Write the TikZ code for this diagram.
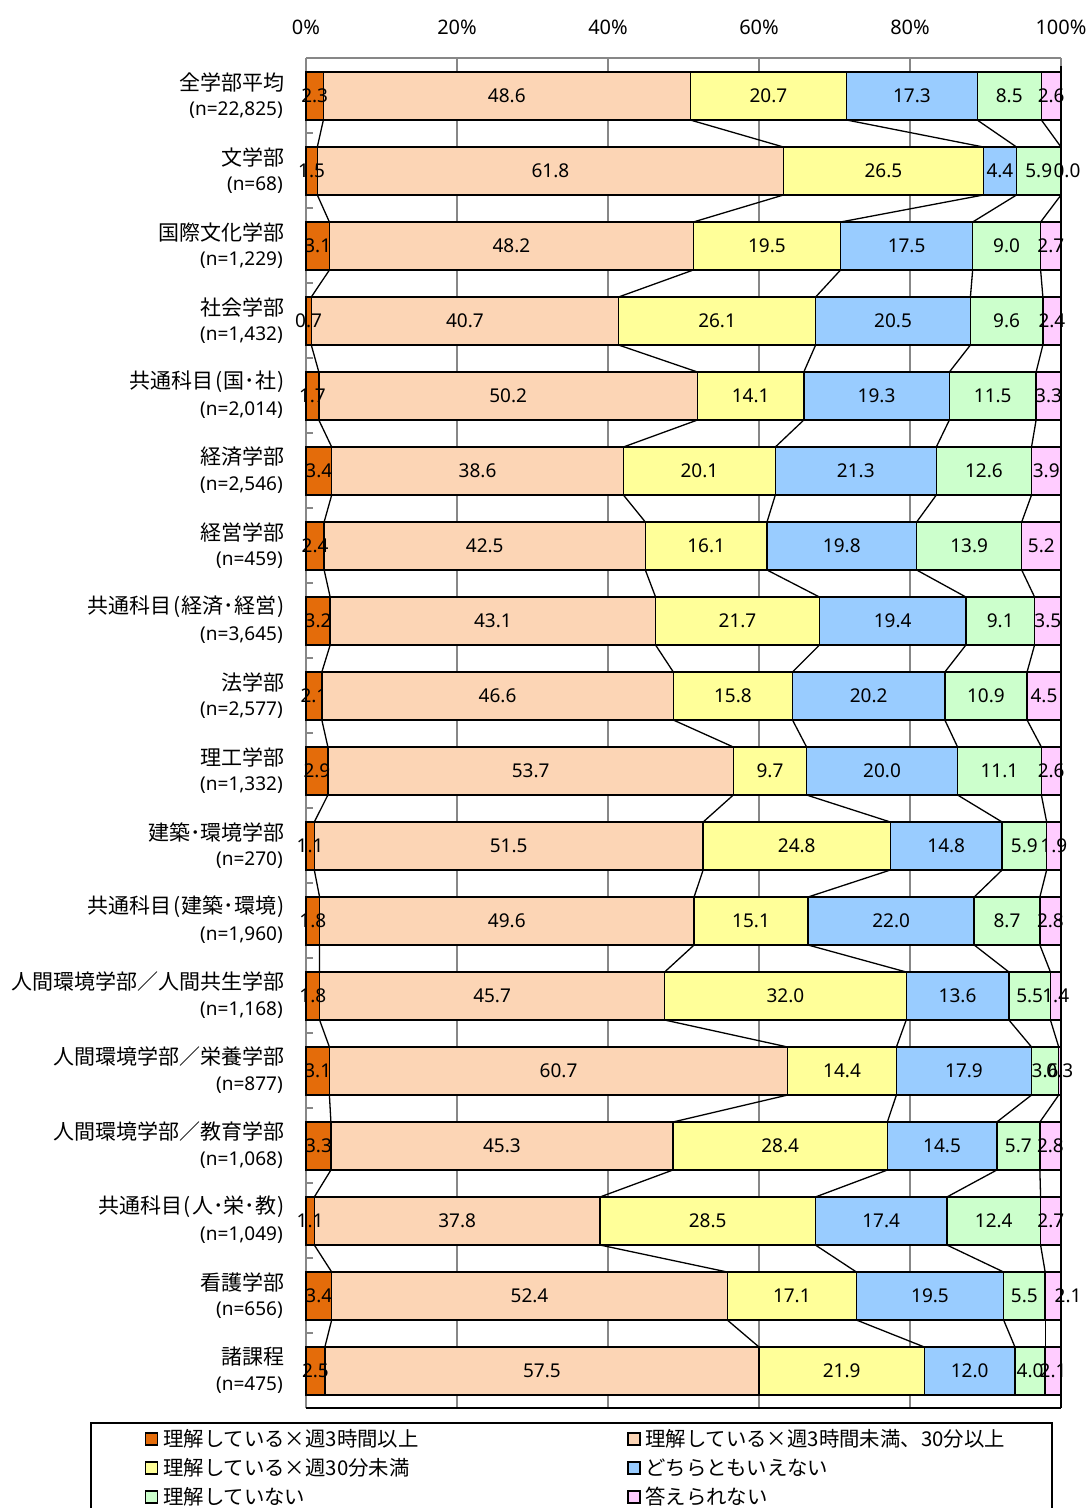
\documentclass[tikz,border=0pt]{standalone}
\usepackage{fontspec}
\setmainfont{Noto Sans}
\newfontfamily\cjk{Noto Sans CJK JP}
\definecolor{cA}{HTML}{E46C0A}
\definecolor{cB}{HTML}{FCD5B5}
\definecolor{cC}{HTML}{FFFF99}
\definecolor{cD}{HTML}{99CCFF}
\definecolor{cE}{HTML}{CCFFCC}
\definecolor{cF}{HTML}{FFCCFF}
\definecolor{gridgray}{HTML}{878787}
\newcommand{\lp}{\hspace{1.5pt}(\hspace{1.5pt}}
\newcommand{\rp}{\hspace{1.5pt})\hspace{1.5pt}}
\newcommand{\md}{･}
\tikzset{
  seg/.style={draw=black, line width=1.4pt},
  gridline/.style={draw=gridgray, line width=1.6pt},
  serline/.style={draw=black, line width=1.3pt},
  val/.style={font=\fontsize{19}{19}\selectfont, inner sep=0pt},
  axlab/.style={font=\fontsize{20}{20}\selectfont, inner sep=0pt},
  catname/.style={font=\cjk\fontsize{21}{21}\selectfont, inner sep=0pt, anchor=east},
  catn/.style={font=\fontsize{19}{19}\selectfont, inner sep=0pt, anchor=east},
  legtext/.style={font=\cjk\fontsize{20.4}{20.4}\selectfont, inner sep=0pt, anchor=west},
  legsq/.style={draw=black, line width=1.2pt, minimum size=12pt, inner sep=0pt},
}
\begin{document}
\begin{tikzpicture}[x=1pt,y=-1pt]
\useasboundingbox (0,0) rectangle (1089,1508);
% grid and axes
\foreach \p [count=\g] in {20,40,60,80}
  \draw[gridline] ({306+7.55*\p},58) -- ({306+7.55*\p},1408);
\draw[gridline] (306,58) -- (1061,58);
\draw[gridline] (306,58) -- (306,1408);
\draw[gridline] (1061,58) -- (1061,67);
\foreach \k in {1,...,18}
  \draw[gridline] (306,{58+75*\k}) -- (313,{58+75*\k});
\draw[black, line width=1.5pt] (306,1408) -- (1061,1408);
\draw[black, line width=1.5pt] (1061,66) -- (1061,1408);
% axis labels
\foreach \p in {0,20,40,60,80,100}
  \node[axlab] (ax\p) at ({306+7.55*\p},27) {\p\%};
% bars
\foreach [count=\i] \nm/\nn/\va/\vb/\vc/\vd/\ve/\vf/\sh in {
 全学部平均/{22,825}/2.3/48.6/20.7/17.3/8.5/2.6/0,
 文学部/68/1.5/61.8/26.5/4.4/5.9/0.0/6,
 国際文化学部/{1,229}/3.1/48.2/19.5/17.5/9.0/2.7/0,
 社会学部/{1,432}/0.7/40.7/26.1/20.5/9.6/2.4/0,
 共通科目\lp 国\md 社\rp/{2,014}/1.7/50.2/14.1/19.3/11.5/3.3/0,
 経済学部/{2,546}/3.4/38.6/20.1/21.3/12.6/3.9/0,
 経営学部/459/2.4/42.5/16.1/19.8/13.9/5.2/0,
 共通科目\lp 経済\md 経営\rp/{3,645}/3.2/43.1/21.7/19.4/9.1/3.5/0,
 法学部/{2,577}/2.1/46.6/15.8/20.2/10.9/4.5/0,
 理工学部/{1,332}/2.9/53.7/9.7/20.0/11.1/2.6/0,
 建築\md 環境学部/270/1.1/51.5/24.8/14.8/5.9/1.9/0,
 共通科目\lp 建築\md 環境\rp/{1,960}/1.8/49.6/15.1/22.0/8.7/2.8/0,
 人間環境学部／人間共生学部/{1,168}/1.8/45.7/32.0/13.6/5.5/1.4/0,
 人間環境学部／栄養学部/877/3.1/60.7/14.4/17.9/3.6/0.3/0,
 人間環境学部／教育学部/{1,068}/3.3/45.3/28.4/14.5/5.7/2.8/0,
 共通科目\lp 人\md 栄\md 教\rp/{1,049}/1.1/37.8/28.5/17.4/12.4/2.7/0,
 看護学部/656/3.4/52.4/17.1/19.5/5.5/2.1/15,
 諸課程/475/2.5/57.5/21.9/12.0/4.0/2.1/0}{
  \pgfmathsetmacro{\tot}{\va+\vb+\vc+\vd+\ve+\vf}
  \pgfmathsetmacro{\fac}{755/\tot}
  \pgfmathsetmacro{\yc}{96+75*(\i-1)}
  \pgfmathsetmacro{\xa}{306+\fac*(\va)}
  \pgfmathsetmacro{\xb}{306+\fac*(\va+\vb)}
  \pgfmathsetmacro{\xc}{306+\fac*(\va+\vb+\vc)}
  \pgfmathsetmacro{\xd}{306+\fac*(\va+\vb+\vc+\vd)}
  \pgfmathsetmacro{\xe}{306+\fac*(\va+\vb+\vc+\vd+\ve)}
  \def\xf{1061}
  \path[seg, fill=cA] (306,\yc-24) rectangle (\xa,\yc+24);
  \path[seg, fill=cB] (\xa,\yc-24) rectangle (\xb,\yc+24);
  \path[seg, fill=cC] (\xb,\yc-24) rectangle (\xc,\yc+24);
  \path[seg, fill=cD] (\xc,\yc-24) rectangle (\xd,\yc+24);
  \path[seg, fill=cE] (\xd,\yc-24) rectangle (\xe,\yc+24);
  \path[seg, fill=cF] (\xe,\yc-24) rectangle (\xf,\yc+24);
  \coordinate (t\i-1) at (\xa,\yc-24); \coordinate (b\i-1) at (\xa,\yc+24);
  \coordinate (t\i-2) at (\xb,\yc-24); \coordinate (b\i-2) at (\xb,\yc+24);
  \coordinate (t\i-3) at (\xc,\yc-24); \coordinate (b\i-3) at (\xc,\yc+24);
  \coordinate (t\i-4) at (\xd,\yc-24); \coordinate (b\i-4) at (\xd,\yc+24);
  \coordinate (t\i-5) at (\xe,\yc-24); \coordinate (b\i-5) at (\xe,\yc+24);
  \coordinate (t\i-6) at (\xf,\yc-24); \coordinate (b\i-6) at (\xf,\yc+24);
  \node[val] (v\i-1) at ({(306+\xa)/2},\yc) {\va};
  \node[val] (v\i-2) at ({(\xa+\xb)/2},\yc) {\vb};
  \node[val] (v\i-3) at ({(\xb+\xc)/2},\yc) {\vc};
  \node[val] (v\i-4) at ({(\xc+\xd)/2},\yc) {\vd};
  \node[val] (v\i-5) at ({(\xd+\xe)/2},\yc) {\ve};
  \node[val] (v\i-6) at ({(\xe+\xf)/2+\sh},\yc) {\vf};
  \node[catname] (c\i) at (285,\yc-14) {\nm};
  \node[catn] (n\i) at (283,\yc+14) {(n=\nn)};
}
% series lines
\foreach \i [evaluate=\i as \j using int(\i+1)] in {1,...,17}
  \foreach \k in {1,...,6}
    \draw[serline] (b\i-\k) -- (t\j-\k);
% legend
\draw[black, line width=1.3pt] (91,1508) -- (91,1423) -- (1052,1423) -- (1052,1508);
\node[legsq, fill=cA] (lsA) at (151.5,1439) {};
\node[legtext] (ltA) at (163,1439) {理解している×週3時間以上};
\node[legsq, fill=cC] (lsC) at (151.5,1468) {};
\node[legtext] (ltC) at (163,1468) {理解している×週30分未満};
\node[legsq, fill=cE] (lsE) at (151.5,1497) {};
\node[legtext] (ltE) at (163,1497) {理解していない};
\node[legsq, fill=cB] (lsB) at (634,1439) {};
\node[legtext] (ltB) at (645,1439) {理解している×週3時間未満、30分以上};
\node[legsq, fill=cD] (lsD) at (634,1468) {};
\node[legtext] (ltD) at (645,1468) {どちらともいえない};
\node[legsq, fill=cF] (lsF) at (634,1497) {};
\node[legtext] (ltF) at (645,1497) {答えられない};
\end{tikzpicture}
\end{document}
